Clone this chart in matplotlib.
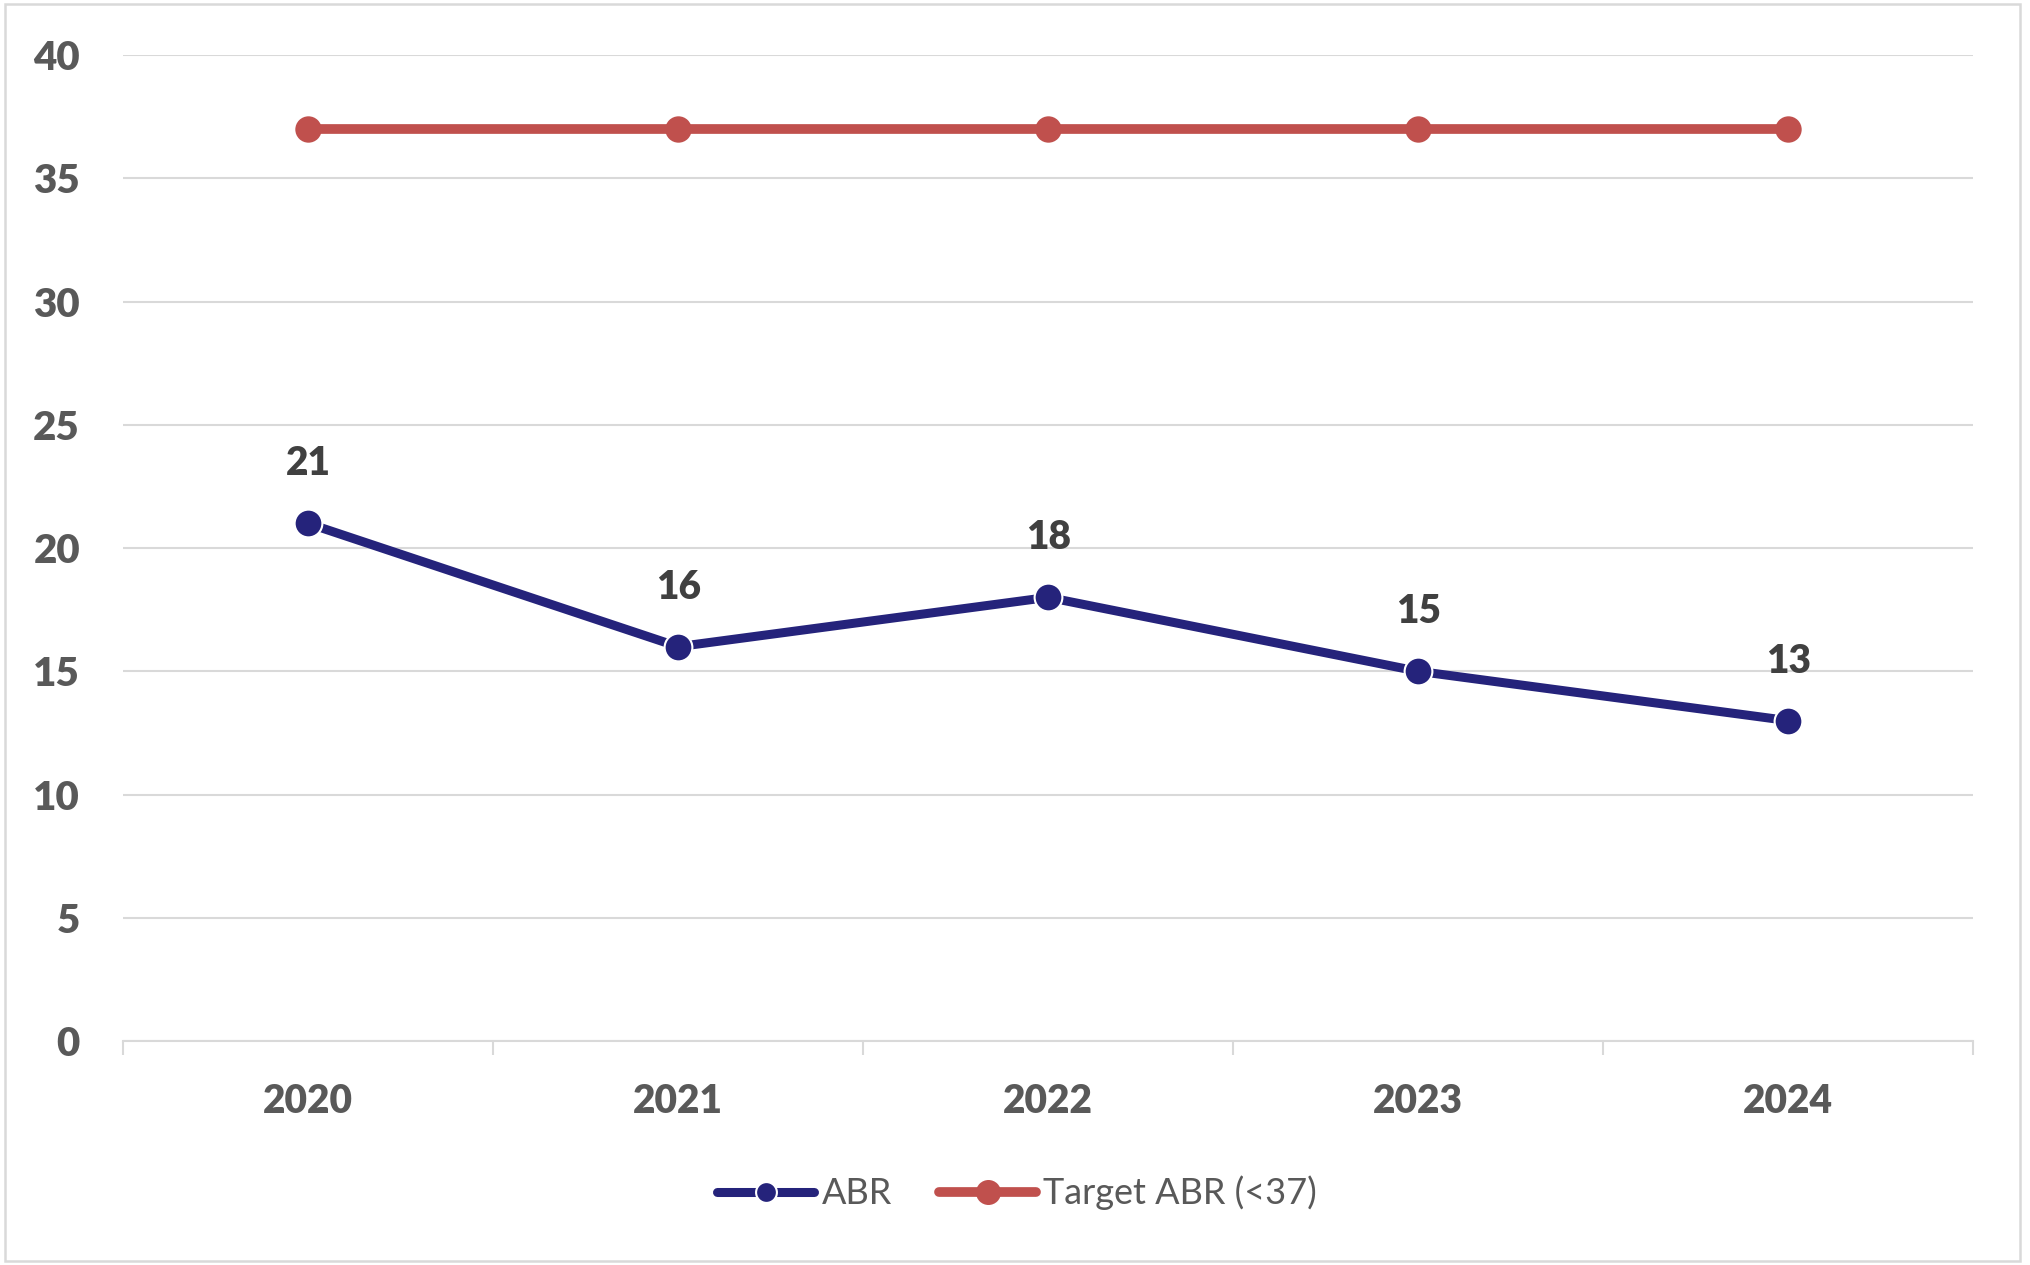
import matplotlib.pyplot as plt
from matplotlib.lines import Line2D
from matplotlib.patches import Rectangle

years = ['2020', '2021', '2022', '2023', '2024']
abr = [21, 16, 18, 15, 13]
target = [37, 37, 37, 37, 37]
y_ticks = [0, 5, 10, 15, 20, 25, 30, 35, 40]

navy = '#25237B'
red = '#C0504D'
grid_c = '#D9D9D9'
lab_c = '#595959'

plt.rcParams['font.family'] = ['Lato', 'DejaVu Sans']

fig = plt.figure(figsize=(20.3, 12.65), dpi=100)
ax = fig.add_axes([0.0606, 0.177, 0.9115, 0.7795])

x = list(range(len(years)))
ax.plot(x, target, color=red, lw=7, marker='o', ms=19, mec=red, mew=0,
        solid_capstyle='round', zorder=3)
ax.plot(x, abr, color=navy, lw=6.5, marker='o', ms=20, mec='white', mew=1.5,
        solid_capstyle='round', zorder=4)

for xi, v in zip(x, abr):
    ax.annotate(str(v), (xi, v), xytext=(0, 34.5), textcoords='offset points',
                ha='center', va='baseline', fontsize=28, fontweight='heavy',
                color='#404040')

ax.set_xlim(-0.5, len(years) - 0.5)
ax.set_ylim(0, 40)
ax.set_yticks(y_ticks)
ax.set_xticks(x)
ax.set_xticklabels(years)
ax.set_xticks([i - 0.5 for i in range(len(years) + 1)], minor=True)

ax.tick_params(axis='x', which='major', length=0, pad=30, labelsize=28,
               labelcolor=lab_c)
ax.tick_params(axis='x', which='minor', length=10, width=1.5, color=grid_c)
ax.tick_params(axis='y', length=0, pad=31, labelsize=29, labelcolor=lab_c)
for lab in ax.get_xticklabels() + ax.get_yticklabels():
    lab.set_fontweight('heavy')

ax.yaxis.grid(True, color=grid_c, lw=1.5)
ax.set_axisbelow(True)
for s in ['top', 'right', 'left']:
    ax.spines[s].set_visible(False)
ax.spines['bottom'].set_color(grid_c)
ax.spines['bottom'].set_linewidth(1.5)

handles = [
    Line2D([], [], color=navy, lw=6.5, marker='o', ms=15, mec='white', mew=1.5,
           solid_capstyle='round'),
    Line2D([], [], color=red, lw=7, marker='o', ms=18, mew=0,
           solid_capstyle='round'),
]
fig.legend(handles, ['ABR', 'Target ABR (<37)'], loc='center',
           bbox_to_anchor=(0.501, 0.057), ncol=2, frameon=False,
           fontsize=26, labelcolor=lab_c, handlelength=2.7,
           handletextpad=0.2, columnspacing=1.3)

fig.patches.append(Rectangle((5 / 2030, 4 / 1265), 2015 / 2030, 1257 / 1265,
                             transform=fig.transFigure, fill=False,
                             edgecolor=grid_c, lw=1.8))

fig.savefig('out.png', dpi=100, facecolor='white')
